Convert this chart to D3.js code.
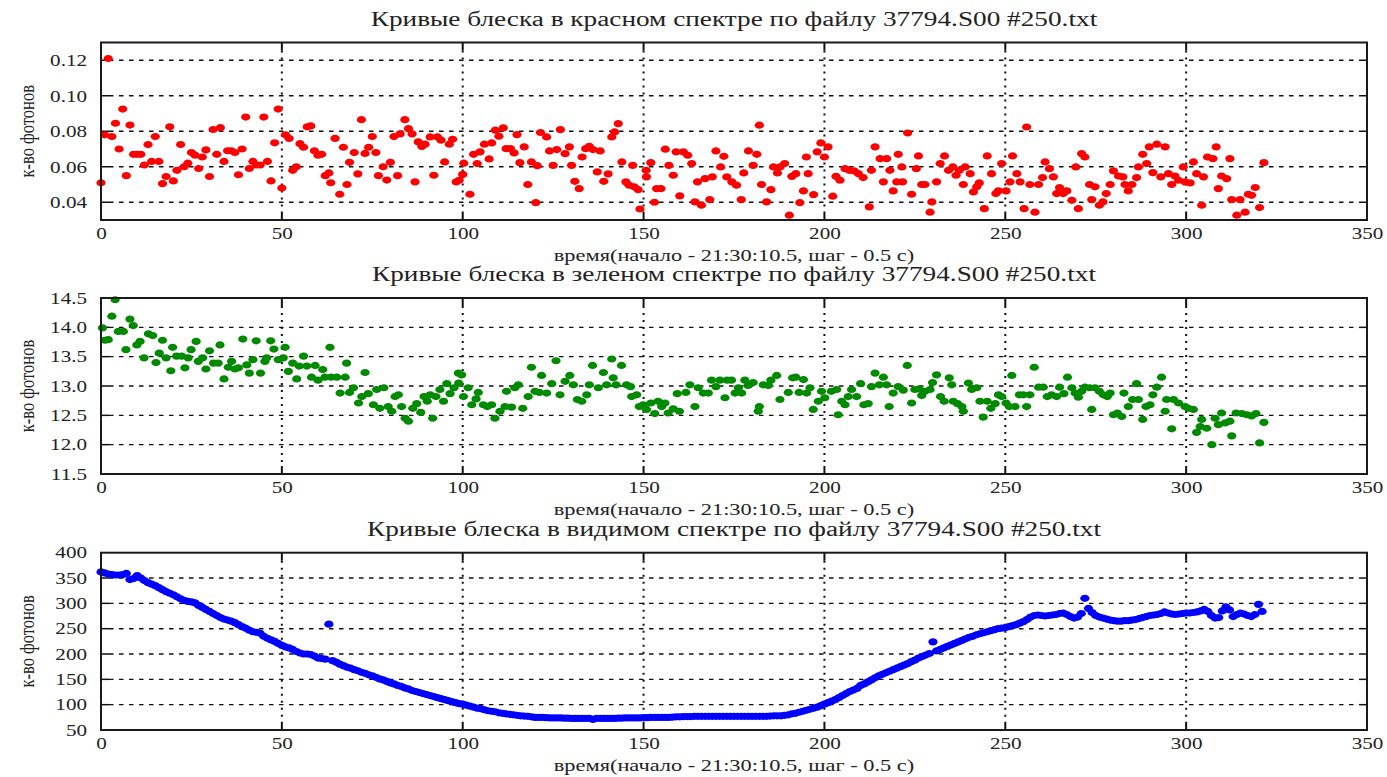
<!DOCTYPE html>
<html>
<head>
<meta charset="utf-8">
<script src="https://cdn.jsdelivr.net/npm/d3@7/dist/d3.min.js"></script>
<style>
    body { margin: 0; background: #fff; }
    svg text { font-family: "Liberation Serif", "DejaVu Serif", serif; fill: #222; }
</style>
</head>
<body>
<svg id="chart" width="1387" height="777"></svg>
<script>
// --- Data ---
const timeTicks = [0, 50, 100, 150, 200, 250, 300, 350];
const redTicks = [0.04, 0.06, 0.08, 0.10, 0.12];
const greenTicks = [11.5, 12.0, 12.5, 13.0, 13.5, 14.0, 14.5];
const blueTicks = [50, 100, 150, 200, 250, 300, 350, 400];

const titles = [
    'Кривые блеска в красном спектре по файлу 37794.S00 #250.txt',
    'Кривые блеска в зеленом спектре по файлу 37794.S00 #250.txt',
    'Кривые блеска в видимом спектре по файлу 37794.S00 #250.txt'
];
const xTitle = 'время(начало - 21:30:10.5, шаг - 0.5 с)';
const yTitle = 'к-во фотонов';

// [time, photons]
const redPoints = [
    [0,0.051],[1,0.078],[2,0.121],[3,0.077],[4,0.0845],[5,0.070],[6,0.0925],[7,0.055],[8,0.0835],[9,0.067],
    [10,0.067],[11,0.067],[12,0.061],[13,0.0725],[14,0.063],[15,0.077],[16,0.063],[17,0.0505],[18,0.0545],[19,0.0825],
    [20,0.052],[21,0.058],[22,0.0725],[23,0.060],[24,0.062],[25,0.068],[26,0.0665],[27,0.059],[28,0.0655],[29,0.0695],
    [30,0.0545],[31,0.081],[32,0.067],[33,0.082],[34,0.063],[35,0.069],[36,0.069],[37,0.068],[38,0.0555],[39,0.070],
    [40,0.088],[41,0.059],[42,0.063],[43,0.061],[44,0.061],[45,0.088],[46,0.063],[47,0.052],[48,0.0735],[49,0.0925],
    [50,0.048],[51,0.078],[52,0.076],[53,0.058],[54,0.060],[55,0.073],[56,0.071],[57,0.0825],[58,0.083],[59,0.069],
    [60,0.0665],[61,0.067],[62,0.055],[63,0.0565],[63.5,0.051],[64.7,0.076],[66,0.0445],[67,0.071],[68,0.050],[68.7,0.0625],
    [70,0.068],[71,0.056],[72,0.0865],[73,0.0675],[74,0.071],[75,0.077],[76,0.068],[76.7,0.055],[78,0.060],[79,0.0525],
    [80,0.0625],[81,0.077],[82,0.055],[82.7,0.0785],[84,0.0865],[85,0.0815],[86,0.0785],[86.8,0.0515],[87.7,0.074],[88.7,0.0715],
    [89.6,0.0727],[91,0.0768],[92,0.0552],[93,0.0768],[94,0.075],[95,0.0627],[96.3,0.0727],[97.2,0.0755],[98.2,0.0515],[99,0.0524],
    [100,0.0557],[100.3,0.062],[102,0.0445],[103,0.067],[104,0.0618],[104.8,0.0684],[106,0.0727],[107.3,0.0644],[108,0.0734],[109,0.0806],
    [110,0.0772],[111.2,0.0819],[112,0.0702],[113.2,0.0702],[114.2,0.0678],[115,0.0781],[115.8,0.0623],[117,0.0712],[118,0.050],[119,0.0627],
    [120.2,0.0398],[120.6,0.0606],[121.5,0.0793],[123.2,0.0768],[124,0.0689],[125,0.0608],[126,0.0697],[127,0.0809],[128.3,0.0674],[129.5,0.0712],
    [130.1,0.0608],[131,0.0518],[132.2,0.0477],[133,0.0655],[134,0.0702],[135,0.0715],[136,0.0697],[137.2,0.0571],[138,0.0689],[139,0.0518],
    [140.2,0.056],[141.2,0.0768],[142,0.0796],[143,0.0843],[144,0.0627],[145.1,0.0515],[146,0.0496],[147,0.0608],[147.4,0.0487],[148.5,0.0471],
    [149,0.0362],[150.7,0.058],[150.8,0.0543],[152,0.0623],[153,0.040],[153.6,0.0477],[154.8,0.0477],[156,0.0699],[157,0.0608],[158.2,0.0552],
    [159,0.0684],[160,0.0436],[161,0.0684],[162.2,0.0665],[163.3,0.0618],[164.2,0.0402],[164.9,0.0515],[166,0.0383],[167,0.0533],[168.3,0.0415],
    [169,0.0543],[170,0.0689],[171.3,0.0599],[172.2,0.0659],[173,0.0543],[174.4,0.0515],[175.7,0.0496],[177,0.0415],[177.7,0.0565],[179,0.0689],
    [180.3,0.0608],[181.3,0.067],[182,0.0834],[182.6,0.050],[184,0.0402],[185.2,0.0471],[185.9,0.0599],[187,0.0565],[187.7,0.0599],[189,0.0618],
    [190.3,0.0327],[191,0.0546],[192.1,0.0561],[193.2,0.0398],[194.2,0.0464],[195,0.0655],[195.5,0.0561],[197,0.0443],[198,0.0684],[199,0.0734],
    [200,0.0655],[201,0.0712],[202.3,0.0434],[203.2,0.0546],[204.3,0.0524],[205.7,0.0589],[206.9,0.058],[208.2,0.0577],[209.4,0.0561],[210.7,0.0539],
    [212.4,0.0374],[213,0.058],[214,0.0712],[215.4,0.0646],[216.3,0.0515],[217.2,0.0646],[218.1,0.058],[219,0.0464],[220,0.0515],[220.4,0.067],
    [221.4,0.0599],[221.6,0.0515],[223,0.079],[224.1,0.0445],[225.4,0.0589],[226,0.0661],[226.9,0.050],[227.8,0.050],[229.2,0.0344],[229.7,0.0402],
    [231,0.0515],[232,0.0618],[233.2,0.0661],[234.3,0.058],[235.5,0.0599],[236.4,0.0552],[237.3,0.058],[238.4,0.050],[238.9,0.0599],[240.3,0.0561],
    [241.2,0.0458],[242.1,0.0487],[242.8,0.0509],[244.2,0.0364],[245,0.0661],[246.2,0.0561],[247.4,0.0449],[248.1,0.0464],[249,0.0618],[250.2,0.0464],
    [251.3,0.0515],[252,0.0661],[253.2,0.0561],[254.1,0.0515],[255.2,0.0364],[255.9,0.0824],[256.8,0.050],[258.2,0.0344],[259.2,0.050],[260.3,0.0539],
    [261,0.0627],[262.2,0.0589],[263.3,0.0543],[264.2,0.0449],[265,0.0483],[266,0.0449],[267,0.0464],[268.4,0.0411],[269.5,0.0599],[270.2,0.0364],
    [271.1,0.0674],[272,0.0655],[273.3,0.050],[273.9,0.0415],[274.8,0.0487],[276,0.0383],[277,0.0402],[277.9,0.0449],[279,0.050],[279.9,0.0577],
    [281.3,0.0548],[282.5,0.0543],[283.1,0.050],[284,0.0464],[285,0.050],[286.3,0.0539],[286.8,0.0599],[288,0.067],[289.1,0.0618],[289.8,0.0712],
    [290.8,0.0567],[291.9,0.0727],[293,0.0543],[294.2,0.0712],[295.1,0.0561],[296,0.050],[296.9,0.0548],[297.9,0.0524],[299.2,0.0599],[299.7,0.0515],
    [301.1,0.0509],[302,0.0627],[302.9,0.0561],[304.3,0.0383],[304.8,0.0543],[305.9,0.0655],[307.4,0.0646],[308.3,0.0712],[308.9,0.0477],[309.8,0.0548],
    [311.2,0.0533],[312.1,0.0646],[312.6,0.0415],[314,0.0327],[314.9,0.0415],[316.3,0.0344],[317.2,0.0445],[318.1,0.0439],[319.1,0.0483],[320.3,0.037],
    [321.5,0.0623]
];

const greenPoints = [
    [0.4,13.99],[1.1,13.78],[2,13.79],[3,14.19],[3.9,14.47],[4.8,13.93],[6.2,13.93],[6.9,13.62],[8,14.14],[8.9,14.03],
    [9.9,13.70],[10.8,13.76],[11.9,13.48],[13.1,13.89],[14.3,13.86],[15.2,13.40],[16.1,13.56],[17,13.78],[18,13.48],[19.3,13.26],
    [19.8,13.66],[20.9,13.51],[22.3,13.51],[23.2,13.31],[24.1,13.48],[24.9,13.62],[26.3,13.76],[26.9,13.42],[28.1,13.48],[29,13.29],
    [30,13.60],[31.1,13.39],[32.4,13.39],[32.9,13.70],[34,13.12],[35.2,13.32],[36.1,13.42],[37,13.29],[38,13.31],[39.2,13.80],
    [40.3,13.36],[41,13.22],[42,13.45],[42.9,13.77],[44.1,13.22],[45.3,13.42],[45.8,13.48],[46.9,13.77],[47.8,13.63],[49,13.45],
    [50.4,13.48],[50.9,13.66],[51.8,13.25],[53,13.39],[54.1,13.12],[54.8,13.34],[56,13.51],[56.9,13.34],[58.2,13.15],[59.2,13.35],
    [60,13.10],[61.3,13.28],[61.9,13.15],[63.3,13.66],[63.6,13.15],[65.2,13.15],[66.1,12.88],[67.5,13.15],[67.9,13.39],[68.7,12.89],
    [69.8,12.97],[71.2,12.71],[72.1,12.82],[73,13.23],[73.9,12.87],[75.3,12.68],[76.2,12.94],[77.1,12.62],[78.2,12.97],[79.4,12.65],
    [80.4,12.57],[81.3,12.82],[82.2,12.85],[83.1,12.65],[84.1,12.45],[85,12.40],[86.2,12.62],[87.3,12.70],[88.4,12.55],[89.3,12.82],
    [90.2,12.74],[91,12.85],[91.7,12.45],[92.6,12.82],[93.7,12.94],[94.7,12.74],[95.6,13.04],[96.5,12.87],[97.6,12.97],[98.8,13.22],
    [98.9,13.05],[99.7,13.19],[100.2,12.82],[101.5,12.97],[102.5,12.68],[103.7,12.78],[104.3,12.89],[105.7,12.68],[106.8,12.65],[108,12.68],
    [108.9,12.45],[110.3,12.57],[111.7,12.65],[112.1,12.91],[113.5,12.64],[114.4,12.97],[115.4,13.02],[116.6,12.62],[118.1,12.82],[119,13.32],
    [120,12.91],[121.2,12.89],[121.8,13.18],[123.2,12.88],[124.6,13.04],[125.8,13.43],[126.9,12.85],[128.3,13.08],[129.6,13.18],[130.6,13.02],
    [131.7,12.77],[132.9,12.74],[134.3,12.85],[135,13.02],[135.9,13.35],[137.5,12.97],[138.9,13.23],[139.8,13.02],[141.2,13.46],[141.6,13.14],
    [142.4,13.02],[143.9,13.35],[145.3,13.02],[146.4,12.99],[146.7,12.82],[148.1,12.85],[148.8,12.65],[149.9,12.68],[150.8,12.60],[152,12.71],
    [153.1,12.53],[154,12.74],[155,12.65],[155.9,12.71],[156.8,12.54],[158.2,12.61],[159.3,12.87],[159.9,12.57],[161.7,12.89],[162.8,13.02],
    [164.2,12.65],[165.1,12.97],[166.5,12.88],[167.9,12.88],[168.8,13.10],[170,12.99],[171.1,13.10],[172.5,12.80],[173.1,13.10],[174.3,13.10],
    [175.3,12.88],[176.2,12.97],[177.1,12.88],[178,13.10],[178.9,13.01],[180.3,13.06],[181.7,12.57],[182,12.65],[183.1,13.02],[184.5,13.01],
    [185.2,13.10],[186.8,13.18],[187.7,12.77],[190,12.89],[191.2,13.14],[192.1,13.15],[193,12.89],[194.2,13.11],[195.1,12.88],[196,12.97],
    [196.9,12.60],[198.3,12.74],[199.2,12.91],[200.1,12.80],[201.9,12.91],[203.4,12.94],[203.8,12.51],[204.8,12.74],[205.7,12.68],[206.6,12.82],
    [207.5,12.94],[208.9,12.82],[210,13.04],[210.9,12.68],[212.1,12.70],[213,12.99],[214,13.22],[215.2,13.02],[216.3,13.15],[217.2,13.02],
    [217.9,12.65],[219,12.88],[220.4,12.99],[221.8,12.93],[222.9,13.35],[224.1,12.71],[225,12.94],[226.2,12.95],[226.9,12.84],[227.8,12.91],
    [229.2,12.94],[229.9,13.06],[231,13.19],[232.1,12.82],[233.1,12.74],[234.5,13.14],[235.2,13.02],[235.6,12.74],[236.8,12.70],[238,12.65],
    [238.4,12.57],[239.8,13.05],[240.7,12.94],[242.1,12.97],[243,12.74],[243.9,12.47],[245,12.74],[246,12.62],[247.2,12.70],[248.1,12.85],
    [249,12.82],[250.2,12.71],[251.1,12.65],[251.8,13.18],[252.7,12.65],[253.9,12.85],[255,12.85],[255.9,12.65],[256.8,12.85],[258,13.32],
    [259.2,12.98],[260.5,12.98],[261.6,12.82],[262.8,12.85],[264.2,12.82],[265,12.98],[266.2,12.87],[267.2,13.15],[268.4,12.97],[269.3,12.88],
    [270.2,12.81],[271.1,12.91],[272,12.98],[273.3,12.97],[273.9,12.60],[274.8,12.97],[276,12.91],[277.1,12.85],[278.2,12.82],[279,12.88],
    [279.9,12.51],[281,12.54],[282.2,12.48],[282.8,12.88],[284,12.65],[285.2,12.77],[286.3,13.04],[286.8,12.77],[288,12.43],[288.9,12.65],
    [290,12.68],[290.8,12.85],[291.9,12.98],[293.2,13.15],[294.2,12.57],[294.6,12.77],[296,12.27],[296.5,12.77],[297.9,12.71],[299.7,12.65],
    [300.6,12.62],[302,12.60],[302.9,12.21],[303.9,12.31],[304.3,12.43],[305.7,12.28],[307.1,12.00],[308,12.45],[308.9,12.34],[309.8,12.54],
    [310.8,12.37],[312.1,12.40],[312.6,12.15],[313.8,12.54],[315.4,12.53],[316.8,12.51],[318.1,12.49],[319.3,12.53],[320.3,12.03],[321.5,12.38]
];

// one value per time step 0..321
const blueCounts = [
    362,360,358,357,356,356,357,359,347,349,
    355,350,345,341,338,335,331,327,323,320,
    317,313,309,306,304,303,301,296,292,288,
    284,280,276,272,269,267,265,262,258,254,
    251,247,244,243,241,235,231,228,225,221,
    217,214,212,209,205,202,200,200,199,196,
    192,191,190,259,187,184,180,177,174,172,
    169,167,164,162,159,157,154,151,149,146,
    143,141,138,136,133,131,128,126,124,122,
    120,118,116,114,112,110,108,106,104,102,
    101,99,97,95,93,92,90,88,87,86,
    84,83,82,81,80,79,78,77.5,77,76,
    75,75,75,74.5,74,74,74,74,73.5,73.5,
    73,73,73,73,73,73,71,73,73,73,
    73,73,73,73.5,73.5,74,74,74,74,74,
    74.5,74.5,75,75,75,75,75,75,75.5,76,
    76,76.5,76.5,76.5,77,77,77,77,77,77,
    77,77,77,77,77,77,77,77,77,77,
    77,77,77,77,77,77.5,78,78,78,79,
    80,82,83,85,87,89,91,93,95,98,
    101,104,107,110,114,118,122,126,129,132,
    138,141,145,149,153,157,160,163,166,169,
    172,175,178,181,185,188,192,195,198,201,
    224,206,209,212,215,218,221,224,227,230,
    233,235,238,240,242,244,246,248,250,251,
    252,254,256,258,261,264,268,273,276,277,
    276,275,276,277,278,280,281,278,274,271,
    273,280,310,290,282,276,273,271,269,267,
    266,265,265,266,266,267,268,270,272,274,
    276,277,278,280,283,281,279,278,279,280,
    281,281,282,283,285,288,284,276,271,272,
    285,293,287,274,278,281,279,276,274,278,
    298,284
];

// --- Layout ---
const SX = 1.28;            // the source picture is stretched horizontally
const plotLeft = 101, plotRight = 1367;
const tickLen = 8;

const panels = [
    { title: titles[0], top: 42.5, bottom: 220, domain: [0.03, 0.13], ticks: redTicks, fmt: d3.format('.2f'),
      color: '#ff0000', points: redPoints },
    { title: titles[1], top: 298, bottom: 474, domain: [11.5, 14.5], ticks: greenTicks, fmt: d3.format('.1f'),
      color: '#008a00', points: greenPoints },
    { title: titles[2], top: 552.7, bottom: 730, domain: [50, 400], ticks: blueTicks, fmt: d3.format('d'),
      color: '#0000ff', points: blueCounts.map((v, i) => [i, v]) }
];

const svg = d3.select('#chart');
const x = d3.scaleLinear().domain([0, 350]).range([plotLeft, plotRight]);

function stretchedText(parent, tx, ty, txt, size, extra) {
    return parent.append('text')
        .attr('transform', `translate(${tx},${ty}) scale(${SX},1)` + (extra || ''))
        .attr('text-anchor', 'middle')
        .style('font-size', size + 'px')
        .text(txt);
}

panels.forEach(p => {
    const g = svg.append('g');
    const y = d3.scaleLinear().domain(p.domain).range([p.bottom, p.top]);
    const midX = (plotLeft + plotRight) / 2;

    // grid: dashed horizontals, dotted verticals
    const innerY = p.ticks.filter(t => y(t) > p.top + 1 && y(t) < p.bottom - 1);
    const innerX = timeTicks.filter(t => x(t) > plotLeft + 1 && x(t) < plotRight - 1);

    g.selectAll('.hgrid').data(innerY).enter().append('line')
        .attr('x1', plotLeft + tickLen).attr('x2', plotRight - tickLen)
        .attr('y1', d => y(d)).attr('y2', d => y(d))
        .attr('stroke', '#111').attr('stroke-width', 1.4)
        .attr('stroke-dasharray', '4.5,5.5');

    g.selectAll('.vgrid').data(innerX).enter().append('line')
        .attr('x1', d => x(d)).attr('x2', d => x(d))
        .attr('y1', p.top + tickLen).attr('y2', p.bottom - tickLen)
        .attr('stroke', '#111').attr('stroke-width', 2)
        .attr('stroke-dasharray', '2,5');

    // inward ticks on all four sides
    innerY.forEach(t => {
        g.append('line').attr('x1', plotLeft).attr('x2', plotLeft + tickLen)
            .attr('y1', y(t)).attr('y2', y(t)).attr('stroke', '#111').attr('stroke-width', 1.5);
        g.append('line').attr('x1', plotRight - tickLen).attr('x2', plotRight)
            .attr('y1', y(t)).attr('y2', y(t)).attr('stroke', '#111').attr('stroke-width', 1.5);
    });
    innerX.forEach(t => {
        g.append('line').attr('x1', x(t)).attr('x2', x(t))
            .attr('y1', p.top).attr('y2', p.top + tickLen).attr('stroke', '#111').attr('stroke-width', 2);
        g.append('line').attr('x1', x(t)).attr('x2', x(t))
            .attr('y1', p.bottom - tickLen).attr('y2', p.bottom).attr('stroke', '#111').attr('stroke-width', 2);
    });

    // points
    g.selectAll('.pt').data(p.points).enter().append('ellipse')
        .attr('cx', d => x(d[0]))
        .attr('cy', d => y(d[1]))
        .attr('rx', 3.6 * SX).attr('ry', 3.6)
        .attr('fill', p.color);

    // frame
    g.append('rect')
        .attr('x', plotLeft).attr('y', p.top)
        .attr('width', plotRight - plotLeft).attr('height', p.bottom - p.top)
        .attr('fill', 'none').attr('stroke', '#1a1a1a').attr('stroke-width', 2);

    // axes (labels only, lines are drawn above)
    const xAxis = g.append('g')
        .attr('transform', `translate(0,${p.bottom})`)
        .call(d3.axisBottom(x).tickValues(timeTicks).tickSize(0).tickPadding(7));
    const yAxis = g.append('g')
        .attr('transform', `translate(${plotLeft},0)`)
        .call(d3.axisLeft(y).tickValues(p.ticks).tickFormat(p.fmt).tickSize(0).tickPadding(14));
    [xAxis, yAxis].forEach(a => {
        a.select('.domain').remove();
        a.selectAll('text').style('font-size', '16.5px').attr('fill', '#222')
            .style('font-family', '"Liberation Serif", serif');
    });
    xAxis.selectAll('text').attr('transform', `scale(${SX},1)`);
    yAxis.selectAll('text').attr('x', -14 / SX).attr('transform', `scale(${SX},1)`);

    // titles
    stretchedText(g, midX, p.top - 17, p.title, 21.3);
    stretchedText(g, midX, p.bottom + 41, xTitle, 17.5);
    stretchedText(g, 27, (p.top + p.bottom) / 2, yTitle, 16.5, ' rotate(-90)')
        .attr('dominant-baseline', 'central');
});
</script>
</body>
</html>
